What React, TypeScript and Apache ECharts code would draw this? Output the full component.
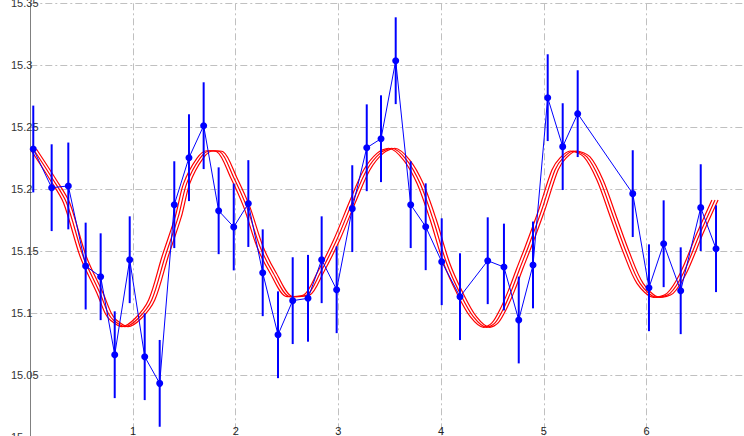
import { useEffect, useRef } from "react";
import * as echarts from "echarts";

// Observed points (x, y) with their error half-widths
const obsX = [
  0.029, 0.208, 0.37, 0.539, 0.685, 0.822, 0.968, 1.114, 1.26, 1.402,
  1.545, 1.688, 1.834, 1.981, 2.123, 2.263, 2.412, 2.555, 2.704, 2.837,
  2.983, 3.135, 3.276, 3.415, 3.558, 3.704, 3.85, 4.006, 4.184, 4.454,
  4.612, 4.756, 4.895, 5.038, 5.184, 5.33, 5.866, 6.024, 6.167, 6.333,
  6.528, 6.677,
];
const obsY = [
  15.2325, 15.2013, 15.2027, 15.1381, 15.1295, 15.0666, 15.1432, 15.065, 15.0435, 15.1876,
  15.2255, 15.2513, 15.1827, 15.1696, 15.1885, 15.1327, 15.0827, 15.1102, 15.1121, 15.1432,
  15.119, 15.1844, 15.2335, 15.2408, 15.3037, 15.1876, 15.1698, 15.1416, 15.1134, 15.1424,
  15.1373, 15.0946, 15.139, 15.2739, 15.2344, 15.261, 15.1965, 15.1206, 15.1561, 15.1182,
  15.1852, 15.1521,
];
const obsErr = [
  0.035, 0.035, 0.035, 0.035, 0.035, 0.035, 0.035, 0.035, 0.035, 0.035,
  0.035, 0.035, 0.035, 0.035, 0.035, 0.035, 0.035, 0.035, 0.035, 0.035,
  0.035, 0.035, 0.035, 0.035, 0.035, 0.035, 0.035, 0.035, 0.035, 0.035,
  0.035, 0.035, 0.035, 0.035, 0.035, 0.035, 0.035, 0.035, 0.035, 0.035,
  0.035, 0.035,
];

// Fitted curve
const fitX = [
  0.029, 0.224, 0.354, 0.516, 0.679, 0.759, 0.808, 0.922, 1.052, 1.182,
  1.312, 1.441, 1.523, 1.652, 1.75, 1.847, 1.977, 2.107, 2.237, 2.366,
  2.529, 2.691, 2.821, 2.983, 3.145, 3.276, 3.405, 3.519, 3.665, 3.795,
  3.924, 4.054, 4.184, 4.314, 4.444, 4.525, 4.606, 4.687, 4.768, 4.849,
  4.98, 5.109, 5.188, 5.287, 5.418, 5.547, 5.677, 5.807, 5.937, 6.099,
  6.229, 6.358, 6.521, 6.667,
];
const fitY = [
  15.2325, 15.2075, 15.189, 15.1456, 15.1161, 15.1, 15.0946, 15.0892, 15.096, 15.1107,
  15.1456, 15.1779, 15.2048, 15.225, 15.2311, 15.2303, 15.2102, 15.186, 15.1537, 15.1323,
  15.1134, 15.1148, 15.1323, 15.1591, 15.1914, 15.2156, 15.229, 15.2331, 15.2236, 15.2048,
  15.1752, 15.1403, 15.1161, 15.0973, 15.0887, 15.0922, 15.1035, 15.1187, 15.1365, 15.1537,
  15.1833, 15.2156, 15.2253, 15.2309, 15.2263, 15.2075, 15.1779, 15.1484, 15.1242, 15.1129,
  15.1161, 15.1323, 15.1645, 15.1914,
];
// the fit is drawn as a band of three shifted copies
const fitShifts = [-0.03, 0, 0.03];

const xMin = 0;
const xMax = 7;
const xStep = 1;
const yMin = 15;
const yMax = 15.35;
const yStep = 0.05;

export default function App() {
  const ref = useRef<HTMLDivElement>(null);
  useEffect(() => {
    const chart = echarts.init(ref.current!, null, { renderer: "svg" });
    const gridLine = { show: true, lineStyle: { color: "#c0c0c0", width: 1, type: [7, 3, 2, 3] } };
    const fitSeries = fitShifts.map((s) => ({
      type: "line",
      data: fitX.map((x, i) => [x + s, fitY[i]]),
      showSymbol: false,
      symbol: "none",
      smooth: 0.3,
      lineStyle: { color: "#ff0000", width: 1.2 },
      z: 1,
      silent: true,
    }));
    chart.setOption({
      animation: false,
      backgroundColor: "#ffffff",
      grid: {
        left: 30.3,
        right: -5.2,
        top: 3.3,
        bottom: -1.3,
        containLabel: false,
        outerBoundsMode: "none",
      },
      xAxis: {
        type: "value",
        min: xMin,
        max: xMax,
        interval: xStep,
        axisLine: { show: false },
        axisTick: { show: false },
        splitLine: gridLine,
        axisLabel: {
          inside: true,
          margin: 1,
          showMinLabel: false,
          showMaxLabel: false,
          color: "#222",
          fontSize: 11,
          fontFamily: "Liberation Sans, Arial, sans-serif",
        },
      },
      yAxis: {
        type: "value",
        min: yMin,
        max: yMax,
        interval: yStep,
        axisLine: { show: true, lineStyle: { color: "#808080", width: 1 } },
        axisTick: { show: false },
        splitLine: gridLine,
        axisLabel: {
          align: "left",
          margin: 19.3,
          color: "#333",
          fontSize: 11,
          fontFamily: "Liberation Sans, Arial, sans-serif",
        },
      },
      series: [
        ...fitSeries,
        {
          type: "custom",
          data: obsX.map((x, i) => [x, obsY[i] - obsErr[i], obsY[i] + obsErr[i]]),
          encode: { x: 0, y: [1, 2] },
          renderItem: (_params: any, api: any) => {
            const lo = api.coord([api.value(0), api.value(1)]);
            const hi = api.coord([api.value(0), api.value(2)]);
            return {
              type: "line",
              shape: { x1: lo[0], y1: lo[1], x2: hi[0], y2: hi[1] },
              style: { stroke: "#0000ff", lineWidth: 2 },
            };
          },
          z: 2,
          silent: true,
        },
        {
          type: "line",
          data: obsX.map((x, i) => [x, obsY[i]]),
          symbol: "circle",
          symbolSize: 7,
          showAllSymbol: true,
          lineStyle: { color: "#0000ff", width: 1 },
          itemStyle: { color: "#0000ff" },
          z: 3,
          silent: true,
        },
      ],
    });
    return () => chart.dispose();
  }, []);
  return (
    <div
      ref={ref}
      style={{ position: "fixed", left: 0, top: 0, width: 744, height: 436, background: "#fff" }}
    />
  );
}
